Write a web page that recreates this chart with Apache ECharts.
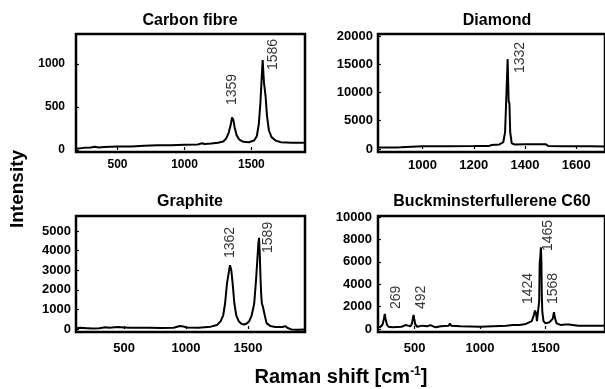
<!DOCTYPE html>
<html><head><meta charset="utf-8">
<script src="https://cdn.jsdelivr.net/npm/echarts@6/dist/echarts.min.js"></script>
<style>html,body{margin:0;padding:0;background:#fff}#c{width:605px;height:389px}</style>
</head><body><div id="c"></div>
<script>
// ---- Data ----
const titles = ['Carbon fibre', 'Diamond', 'Graphite', 'Buckminsterfullerene C60'];
const xTicks = [[500, 1000, 1500], [1000, 1200, 1400, 1600], [500, 1000, 1500], [500, 1000, 1500]];
const yTicks = [[0, 500, 1000], [0, 5000, 10000, 15000, 20000], [0, 1000, 2000, 3000, 4000, 5000], [0, 2000, 4000, 6000, 8000, 10000]];
const xRanges = [[190, 1900], [826, 1712], [112, 1960], [220, 1955]];
const yRanges = [[-23, 1349], [-530, 20350], [-153, 5765], [-268, 10090]];

const carbonFibre = [[190,15],[250,25],[300,30],[330,38],[360,30],[400,35],[450,38],[500,40],[600,42],[700,50],[800,55],[900,55],[1000,60],[1100,65],[1130,78],[1150,70],[1200,75],[1250,85],[1290,100],[1310,130],[1330,200],[1345,290],[1355,380],[1360,395],[1365,350],[1375,260],[1390,170],[1410,120],[1440,95],[1480,90],[1520,110],[1540,160],[1555,300],[1567,550],[1577,850],[1584,1045],[1589,900],[1594,780],[1600,800],[1606,620],[1616,400],[1630,230],[1650,150],[1680,110],[1720,90],[1800,85],[1900,85]];
const diamond = [[826,250],[900,280],[915,300],[920,450],[1000,480],[1100,500],[1200,520],[1260,550],[1270,700],[1300,800],[1315,1200],[1322,3000],[1326,8000],[1329,12000],[1332,15900],[1334,12000],[1336,8500],[1339,8000],[1342,3000],[1348,1000],[1360,800],[1400,850],[1480,850],[1490,550],[1550,500],[1650,500],[1712,450]];
const graphite = [[112,50],[150,60],[200,40],[250,20],[300,40],[350,90],[380,60],[450,100],[500,80],[550,60],[600,70],[700,60],[800,50],[900,60],[950,150],[980,130],[1000,80],[1100,70],[1200,120],[1250,200],[1280,400],[1300,700],[1315,1300],[1330,2300],[1345,2900],[1355,3250],[1365,3000],[1375,2400],[1390,1300],[1405,700],[1425,400],[1450,250],[1470,230],[1490,280],[1510,400],[1530,700],[1550,1300],[1565,2500],[1575,3500],[1583,4300],[1589,4650],[1594,4000],[1600,2800],[1606,1800],[1612,1300],[1620,1150],[1628,1100],[1635,700],[1650,300],[1680,150],[1720,100],[1780,100],[1800,150],[1820,50],[1850,-20],[1900,-40],[1960,-30]];
const c60 = [[220,150],[240,200],[255,400],[265,900],[272,1350],[278,900],[288,400],[300,200],[330,150],[400,200],[430,350],[450,300],[470,250],[480,500],[487,1000],[492,1250],[497,900],[505,400],[520,200],[560,300],[600,250],[620,350],[660,150],[700,250],[760,300],[770,500],[780,300],[850,250],[1000,200],[1100,250],[1200,300],[1250,350],[1300,350],[1350,450],[1395,700],[1410,1200],[1420,1650],[1428,1400],[1435,700],[1445,600],[1452,2500],[1456,6000],[1460,6300],[1465,7300],[1469,6000],[1472,3000],[1476,1500],[1485,700],[1500,500],[1530,600],[1555,900],[1565,1500],[1572,1000],[1585,500],[1620,350],[1650,400],[1665,550],[1680,400],[1750,300],[1850,300],[1955,300]];
const spectra = [carbonFibre, diamond, graphite, c60];

// peak labels: [x, y (label start), text]
const peaksCF = [[1359, 523, '1359'], [1664, 930, '1586']];
const peaksDiamond = [[1379, 13450, '1332']];
const peaksGraphite = [[1355, 3620, '1362'], [1661, 3880, '1589']];
const peaksC60 = [[356, 1790, '269'], [546, 1790, '492'], [1364, 2230, '1424'], [1523, 6960, '1465'], [1561, 2230, '1568']];
const peaks = [peaksCF, peaksDiamond, peaksGraphite, peaksC60];

// ---- Layout ----
const FONT = 'Liberation Sans, Arial, sans-serif';
const gridPos = [
  {left: 76, top: 34, width: 229, height: 118},
  {left: 378, top: 34, width: 229, height: 118},
  {left: 76, top: 216, width: 229, height: 116},
  {left: 378, top: 216, width: 229, height: 116}
];
const xLabelMargin = [7, 7, 10, 10];
const yLabelMargin = [11, 5, 5, 6];
const tickFont = [12, 13, 13, 13];
const titlePos = [[190, 21], [497, 21], [190, 202], [492, 202]];

const grid = gridPos.map(g => Object.assign({show: true, borderColor: '#000', borderWidth: 2.5, backgroundColor: 'transparent'}, g));
const xAxis = gridPos.map((g, i) => ({
  type: 'value', gridIndex: i, min: xRanges[i][0], max: xRanges[i][1],
  axisLine: {show: false}, splitLine: {show: false},
  axisTick: {show: true, inside: true, length: 3, customValues: xTicks[i], lineStyle: {color: '#000', width: 1.2}},
  axisLabel: {customValues: xTicks[i], formatter: v => String(v), color: '#000', fontWeight: 'bold', fontSize: tickFont[i], fontFamily: FONT, margin: xLabelMargin[i]}
}));
const yAxis = gridPos.map((g, i) => ({
  type: 'value', gridIndex: i, min: yRanges[i][0], max: yRanges[i][1],
  axisLine: {show: false}, splitLine: {show: false},
  axisTick: {show: true, inside: true, length: 3, customValues: yTicks[i], lineStyle: {color: '#000', width: 1.2}},
  axisLabel: {customValues: yTicks[i], formatter: v => String(v), color: '#000', fontWeight: 'bold', fontSize: tickFont[i], fontFamily: FONT, margin: yLabelMargin[i]}
}));
const series = [];
spectra.forEach((d, i) => {
  series.push({type: 'line', xAxisIndex: i, yAxisIndex: i, data: d, showSymbol: false, symbol: 'none',
    lineStyle: {color: '#000', width: 2}, silent: true, animation: false});
  series.push({type: 'scatter', xAxisIndex: i, yAxisIndex: i, data: peaks[i], symbolSize: 1,
    itemStyle: {color: 'rgba(0,0,0,0)'}, animation: false, silent: true,
    label: {show: true, position: 'inside', rotate: 90, align: 'left', verticalAlign: 'middle',
      formatter: p => p.value[2], color: '#000', fontSize: 14, fontFamily: FONT}});
});
const graphic = titles.map((t, i) => ({type: 'text', x: titlePos[i][0], y: titlePos[i][1],
  style: {text: t, fill: '#000', font: 'bold 16px ' + FONT, textAlign: 'center', textVerticalAlign: 'middle'}}));
graphic.push({type: 'text', x: 18, y: 189, rotation: Math.PI / 2,
  style: {text: 'Intensity', fill: '#000', font: 'bold 19px ' + FONT, textAlign: 'center', textVerticalAlign: 'middle'}});
graphic.push({type: 'text', x: 341, y: 377,
  style: {text: '{a|Raman shift [cm}{b|-1}{a|]}', textAlign: 'center', textVerticalAlign: 'middle',
    rich: {a: {fontSize: 20, fontWeight: 'bold', fontFamily: FONT, fill: '#000', lineHeight: 22},
           b: {fontSize: 12, fontWeight: 'bold', fontFamily: FONT, fill: '#000', verticalAlign: 'top', lineHeight: 22, padding: [0, 0, 8, 0]}}}});

const chart = echarts.init(document.getElementById('c'), null, {renderer: 'canvas'});
chart.setOption({animation: false, backgroundColor: '#fff', grid, xAxis, yAxis, series, graphic});
</script></body></html>
